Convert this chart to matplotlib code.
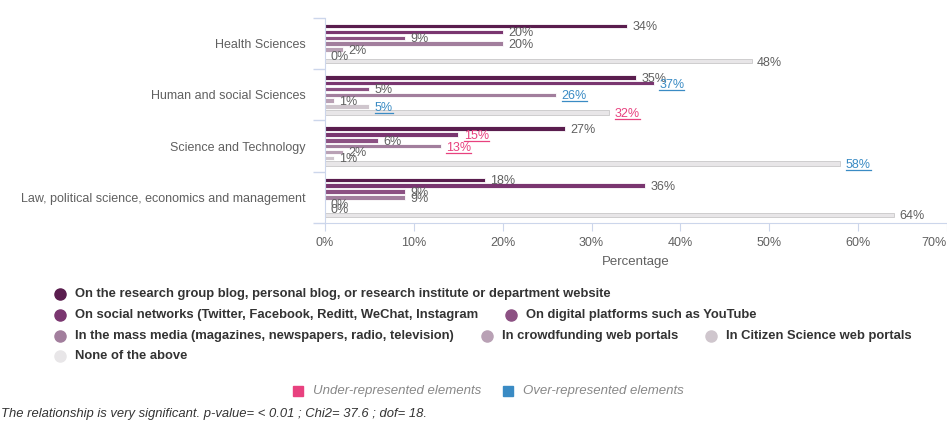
import numpy as np
import matplotlib.pyplot as plt
from matplotlib.lines import Line2D
from matplotlib.patches import Rectangle

plt.rcParams['font.family'] = ['Liberation Sans', 'DejaVu Sans']

categories = ["Health Sciences", "Human and social Sciences", "Science and Technology",
              "Law, political science, economics and management"]

series_names = [
    "On the research group blog, personal blog, or research institute or department website",
    "On social networks (Twitter, Facebook, Reditt, WeChat, Instagram",
    "On digital platforms such as YouTube",
    "In the mass media (magazines, newspapers, radio, television)",
    "In crowdfunding web portals",
    "In Citizen Science web portals",
    "None of the above",
]

# percentages per category
blog = [34, 35, 27, 18]
social = [20, 37, 15, 36]
digital = [9, 5, 6, 9]
mass_media = [20, 26, 13, 9]
crowdfunding = [2, 1, 2, 0]
citizen = [0, 5, 1, 0]
none_above = [48, 32, 58, 64]

# -1 under-represented, 1 over-represented, 0 neither
st_blog = [0, 0, 0, 0]
st_social = [0, 1, -1, 0]
st_digital = [0, 0, 0, 0]
st_mass_media = [0, 1, -1, 0]
st_crowdfunding = [0, 0, 0, 0]
st_citizen = [0, 1, 0, 0]
st_none = [0, -1, 1, 0]

xticks = [0, 10, 20, 30, 40, 50, 60, 70]

series_vals = [blog, social, digital, mass_media, crowdfunding, citizen, none_above]
series_status = [st_blog, st_social, st_digital, st_mass_media, st_crowdfunding, st_citizen, st_none]
colors = ['#5a1d4e', '#7a3670', '#8c5183', '#a27e9d', '#b9a1b5', '#cfc6cd', '#e8e6e8']
edge = ['#ffffff'] * 6 + ['#c8c8c8']

PINK = '#e8417f'
BLUE = '#3a8bc4'
GRAY = '#606060'

W, H = 947, 421
fig = plt.figure(figsize=(W / 100, H / 100), dpi=100)
ax = fig.add_axes([325 / W, 1 - 223 / H, (W - 325) / W, (223 - 18) / H])

y = np.arange(len(categories))
pitch = 0.114
label_items = []
for j, (vals, stats) in enumerate(zip(series_vals, series_status)):
    pos = y + (j - 3) * pitch
    ax.barh(pos, vals, height=0.088, color=colors[j], edgecolor=edge[j], linewidth=0.6)
    for p, v, s in zip(pos, vals, stats):
        c = GRAY if s == 0 else (PINK if s < 0 else BLUE)
        t = ax.annotate(f"{v}%", (v, p), xytext=(4, -1), textcoords='offset points',
                        va='center', ha='left', fontsize=9, color=c)
        if s != 0:
            label_items.append((t, c))

ax.set_xlim(0, 70)
ax.set_ylim(len(categories) - 0.5, -0.5)
ax.set_xticks(xticks)
ax.set_xticklabels([f"{t}%" for t in xticks], fontsize=9, color=GRAY)
ax.set_yticks(y)
ax.set_yticklabels(categories, fontsize=9, color=GRAY)
ax.set_yticks(np.arange(len(categories) + 1) - 0.5, minor=True)
ax.tick_params(axis='y', which='major', length=0, pad=14)
ax.tick_params(axis='y', which='minor', length=9, color='#ccd6eb', width=1)
ax.tick_params(axis='x', length=6, color='#ccd6eb', pad=4)
ax.xaxis.get_majorticklabels()[-1].set_ha('right')
ax.set_xlabel("Percentage", fontsize=9.5, color=GRAY, labelpad=5)
for side in ['top', 'right']:
    ax.spines[side].set_visible(False)
ax.spines['left'].set_color('#ccd6eb')
ax.spines['bottom'].set_color('#ccd6eb')

# underline the coloured value labels
fig.canvas.draw()
renderer = fig.canvas.get_renderer()
inv = fig.transFigure.inverted()
for t, c in label_items:
    bb = t.get_window_extent(renderer)
    (x0, y0), (x1, _) = inv.transform([(bb.x0, bb.y0 + 1), (bb.x1, bb.y0 + 1)])
    fig.add_artist(Line2D([x0, x1], [y0, y0], color=c, lw=0.9, transform=fig.transFigure))

# series legend (flowing rows)
legend_rows = [[0], [1, 2], [3, 4, 5], [6]]
row_y = [294, 315, 336, 356]
leg_font = dict(fontsize=9.4, fontweight='bold', color='#333333')
for row, ry in zip(legend_rows, row_y):
    xpx = 60
    for j in row:
        fig.add_artist(Line2D([xpx / W], [1 - ry / H], marker='o', ms=8, color=colors[j],
                              mec=colors[j], transform=fig.transFigure))
        txt = fig.text((xpx + 15) / W, 1 - ry / H, series_names[j], va='center', ha='left', **leg_font)
        bb = txt.get_window_extent(renderer)
        xpx = bb.x1 + 33

# significance legend
sig_y = 391
xpx = 298
for c, lab in [(PINK, "Under-represented elements"), (BLUE, "Over-represented elements")]:
    fig.add_artist(Rectangle(((xpx - 5) / W, 1 - (sig_y + 5) / H), 10 / W, 10 / H,
                             color=c, transform=fig.transFigure))
    txt = fig.text((xpx + 15) / W, 1 - sig_y / H, lab, va='center', ha='left',
                   fontsize=9.5, style='italic', color='#888888')
    bb = txt.get_window_extent(renderer)
    xpx = bb.x1 + 27

fig.text(1 / W, 1 - 414 / H,
         "The relationship is very significant. p-value= < 0.01 ; Chi2= 37.6 ; dof= 18.",
         va='center', ha='left', fontsize=9.4, style='italic', color='#333333')

fig.savefig("out.png", dpi=100)
